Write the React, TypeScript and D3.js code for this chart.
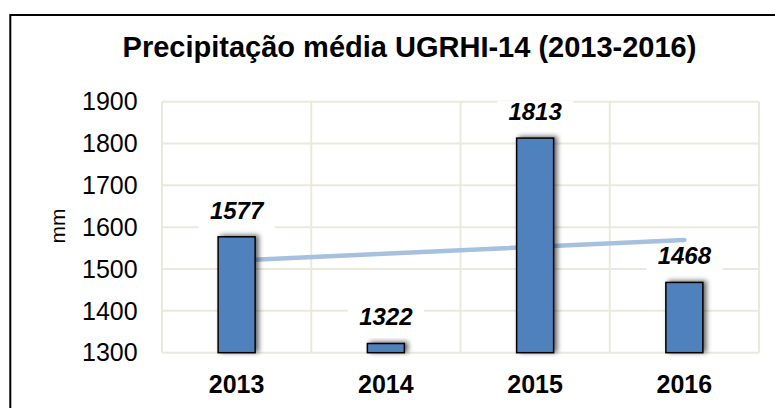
import React from 'react';
import * as d3 from 'd3';

const years = ['2013', '2014', '2015', '2016'];
const values = [1577, 1322, 1813, 1468];
const yTicks = [1300, 1400, 1500, 1600, 1700, 1800, 1900];
const title = 'Precipitação média UGRHI-14 (2013-2016)';
const yLabel = 'mm';

const W = 775;
const H = 408;
const FONT = '"Liberation Sans", Arial, sans-serif';

export default function App() {
  const x = d3.scaleBand<string>().domain(years).range([162, 759]).padding(0);
  const y = d3.scaleLinear().domain([1300, 1900]).range([352.7, 101.7]);
  const bw = x.bandwidth();
  const barW = bw * 0.248;

  // linear trendline (least squares) over the series
  const xs = values.map((_, i) => i + 1);
  const mx = d3.mean(xs)!;
  const my = d3.mean(values)!;
  const slope =
    d3.sum(xs.map((xi, i) => (xi - mx) * (values[i] - my))) /
    d3.sum(xs.map((xi) => (xi - mx) * (xi - mx)));
  const intercept = my - slope * mx;
  const trendPts: [number, number][] = [
    [x(years[0])! + bw / 2, y(intercept + slope * 1)],
    [x(years[years.length - 1])! + bw / 2, y(intercept + slope * years.length)],
  ];
  const line = d3.line();

  const [x0, x1] = x.range();
  const [yb, yt] = y.range();

  return (
    <svg
      width={W}
      height={H}
      style={{ position: 'absolute', left: 0, top: 0, background: '#fff' }}
      fontFamily={FONT}
    >
      <defs>
        <filter id="shadow" x="-50%" y="-50%" width="200%" height="200%">
          <feDropShadow dx="3" dy="-1" stdDeviation="2.5" floodColor="#000" floodOpacity="0.6" />
        </filter>
      </defs>
      <rect x={0} y={0} width={W} height={H} fill="#fff" />
      <rect x={10.3} y={15} width={W + 20} height={H + 20} fill="none" stroke="#000" strokeWidth={2} />

      <text x={409.5} y={57} textAnchor="middle" fontWeight="bold" fontSize={29} fill="#000">
        {title}
      </text>

      {/* gridlines */}
      <g stroke="#ebe8dd" strokeWidth={2}>
        {yTicks.map((t) => (
          <line key={t} x1={x0} x2={x1} y1={y(t)} y2={y(t)} />
        ))}
        {[...years.map((yr) => x(yr)!), x1].map((v, i) => (
          <line key={i} x1={v} x2={v} y1={yt} y2={yb} />
        ))}
      </g>

      {/* y tick labels */}
      {yTicks.map((t) => (
        <text key={t} x={137.7} y={y(t) + 8.7} textAnchor="end" fontSize={25} fill="#000">
          {t}
        </text>
      ))}

      <text
        transform={`translate(65,${226}) rotate(-90)`}
        textAnchor="middle"
        fontSize={21}
        fill="#000"
      >
        {yLabel}
      </text>

      {/* trendline */}
      <path d={line(trendPts)!} stroke="#a6c0df" strokeWidth={4.5} fill="none" strokeLinecap="round" />

      {/* bars */}
      {years.map((yr, i) => (
        <rect
          key={yr}
          x={x(yr)! + bw / 2 - barW / 2}
          y={y(values[i])}
          width={barW}
          height={yb - y(values[i])}
          fill="#4f81bd"
          stroke="#000"
          strokeWidth={1.5}
          filter="url(#shadow)"
        />
      ))}

      {/* data labels */}
      {years.map((yr, i) => {
        const cx = x(yr)! + bw / 2;
        const base = y(values[i]) - 18;
        return (
          <g key={yr}>
            <rect x={cx - 38} y={base - 19} width={76} height={29} fill="#fff" />
            <text
              x={cx}
              y={base}
              textAnchor="middle"
              fontWeight="bold"
              fontStyle="italic"
              fontSize={24}
              fill="#000"
            >
              {values[i]}
            </text>
          </g>
        );
      })}

      {/* x labels */}
      {years.map((yr) => (
        <text
          key={yr}
          x={x(yr)! + bw / 2}
          y={392.7}
          textAnchor="middle"
          fontWeight="bold"
          fontSize={25}
          fill="#000"
        >
          {yr}
        </text>
      ))}
    </svg>
  );
}
